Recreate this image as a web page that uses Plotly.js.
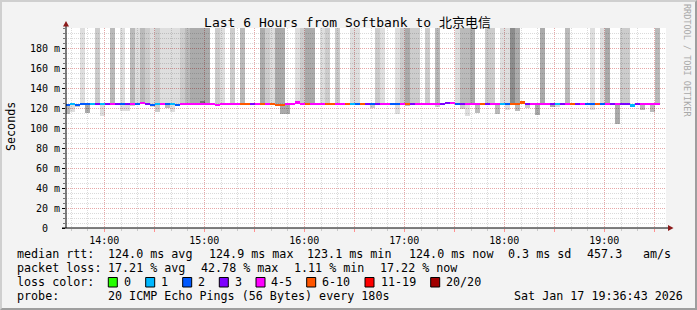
<!DOCTYPE html>
<html><head><meta charset="utf-8">
<script src="https://cdn.plot.ly/plotly-3.0.1.min.js"></script>
<style>
body{margin:0;background:#f3f3f3}
#wrap{position:relative;width:697px;height:310px;overflow:hidden}
#frame{position:absolute;left:0;top:0;width:697px;height:310px;box-sizing:border-box;border-style:solid;border-width:2px;border-color:#cfcfcf #9e9e9e #9e9e9e #cfcfcf;pointer-events:none}
</style>
</head><body>
<div id="wrap"><div id="chart"></div><div id="frame"></div></div>
<script>
// ---- data ----
const firstSampleUTC = '2026-01-17T13:37:54Z';
const stepSeconds = 180;
const xStart = '2026-01-17 13:37:00';
const xEnd = '2026-01-17 19:37:00';
const hourTicks = ['2026-01-17 14:00','2026-01-17 14:30','2026-01-17 15:00','2026-01-17 15:30','2026-01-17 16:00','2026-01-17 16:30','2026-01-17 17:00','2026-01-17 17:30','2026-01-17 18:00','2026-01-17 18:30','2026-01-17 19:00','2026-01-17 19:30'];
const hourLabels = ['14:00','','15:00','','16:00','','17:00','','18:00','','19:00',''];
const yTickVals = [0,20,40,60,80,100,120,140,160,180];
const yTickText = ['0\u00a0\u00a0','20 m','40 m','60 m','80 m','100 m','120 m','140 m','160 m','180 m'];

const medianMs = [
123,124,123,124,124,124,124,124,124,124,
124,124,124,124,124,125,124,123,124,124,
124,124,123,124,124,124,124,124,124,124,
123,124,124,124,124,124,124,124,124,124,
124,124,123,123,124,124,125.5,124,124,124,
124,124,124,124,124,124,124,124,124,124,
124,124,124,124,124,124,124,124,124,124,
124,124,124,124,124,124,125,125,124,124,
124,124,124,124,124,124,124,124,124,124,
124,125.5,124,124,124,124,124,124,124,124,
124,124,124,124,124,124,124,124,124,124,
124,124,124,122.5,124,124,124,124,124];
const lostPings = [
2,1,2,2,2,1,3,1,3,4,
3,2,3,4,2,4,3,2,1,4,
2,1,2,4,4,4,4,4,4,4,
4,4,4,4,4,7,7,3,4,7,
4,7,7,7,4,4,5,4,7,4,
4,4,7,7,4,4,7,1,2,7,
3,2,3,4,4,2,2,4,7,3,
4,5,4,4,4,3,3,4,2,3,
4,4,4,7,3,4,5,1,2,7,
7,7,3,4,4,5,4,3,1,3,
4,7,3,4,2,2,7,2,4,3,
4,3,3,1,3,4,5,4,4];
const smokeShade = [
0,0,0,1,0,0,2,0,0,3,
0,1,0,3,1,3,2,1,2,1,
1,1,1,2,3,4,4,4,4,0,
2,1,0,2,0,3,0,0,0,4,
2,1,4,4,0,0,1,2,4,4,
0,1,2,0,2,0,0,1,1,0,
0,0,2,1,0,0,1,2,4,2,
2,0,2,0,3,0,0,0,1,3,
3,4,0,0,2,2,0,1,1,5,
4,0,0,0,0,4,0,0,0,0,
3,0,0,0,0,1,0,1,4,0,
0,2,2,0,0,0,0,0,3];
const lowMs = [
114,116,121,null,115,null,null,112,null,null,
null,117,117,122,null,null,null,121,116,null,
120,116,null,null,null,null,null,null,null,null,
null,null,null,null,null,null,null,null,null,null,
null,null,null,114,114,null,null,null,null,null,
null,null,null,null,null,null,null,null,null,null,
null,120,null,null,null,null,114,null,122,null,
null,null,null,null,121,null,null,null,null,119,
112,null,115,null,null,null,114,null,118,null,
117,null,120,null,113,null,null,121,121,null,
null,null,null,null,null,118,null,null,null,null,
104,null,null,null,null,118,null,116,null];
const lowShade = [
3,1,2,0,4,0,0,1,0,0,
0,1,1,2,0,0,0,1,2,0,
3,1,0,0,0,0,0,0,0,0,
0,0,0,0,0,0,0,0,0,0,
0,0,0,4,4,0,0,0,0,0,
0,0,0,0,0,0,0,0,0,0,
0,2,0,0,0,0,1,0,3,0,
0,0,0,0,2,0,0,0,0,2,
1,0,3,0,0,0,3,0,1,0,
3,0,2,0,4,0,0,4,1,0,
0,0,0,0,0,1,0,0,0,0,
4,0,0,0,0,3,0,3,0];
const bumpIndex = [27];
const bumpMs = [127];

const lossLabels = ['0','1','2','3','4-5','6-10','11-19','20/20'];
const lossUpper = [0,1,2,3,5,10,19,20];
const lossColors = ['#26ff00','#00b8ff','#0059ff','#7e00ff','#ff00ff','#ff5500','#ff0000','#a10000'];

// ---- build ----
const MONO = "'DejaVu Sans Mono', 'Noto Sans CJK SC', monospace";
const shadeColors = [null,'rgba(0,0,0,0.13)','rgba(0,0,0,0.2)','rgba(0,0,0,0.27)','rgba(0,0,0,0.33)','rgba(0,0,0,0.45)'];
const t0 = Date.parse(firstSampleUTC);
const times = medianMs.map((_, k) => new Date(t0 + k*stepSeconds*1000).toISOString().replace('T',' ').slice(0,19));
const W = 180000;
function barTrace(idx, base, h, color){
  return {type:'bar', x: idx.map(k=>times[k]), base: base, y: h, width: W,
    marker:{color: color, line:{width:0}}, hoverinfo:'skip', showlegend:false};
}
const traces = [];
for (let s=1; s<=5; s++){
  const idx = smokeShade.map((v,k)=>v===s?k:-1).filter(k=>k>=0);
  if (!idx.length) continue;
  traces.push(barTrace(idx, idx.map(k=>medianMs[k]), idx.map(k=>201-medianMs[k]), shadeColors[s]));
}
for (let s=1; s<=5; s++){
  const idx = lowShade.map((v,k)=>(v===s && lowMs[k]!==null)?k:-1).filter(k=>k>=0);
  if (!idx.length) continue;
  traces.push(barTrace(idx, idx.map(k=>lowMs[k]), idx.map(k=>medianMs[k]-lowMs[k]), shadeColors[s]));
}
traces.push(barTrace(bumpIndex, bumpIndex.map(k=>medianMs[k]), bumpIndex.map((k,i)=>bumpMs[i]-medianMs[k]), shadeColors[4]));
function lossBin(c){ for (let i=0;i<lossUpper.length;i++) if (c<=lossUpper[i]) return i; return lossUpper.length-1; }
for (let b=0; b<lossColors.length; b++){
  const idx = lostPings.map((c,k)=>lossBin(c)===b?k:-1).filter(k=>k>=0);
  if (!idx.length) continue;
  traces.push(barTrace(idx, idx.map(k=>medianMs[k]-1.3), idx.map(()=>2.6), lossColors[b]));
}

// pixel helpers (plot area 66..666 x 28..228)
const L=66, PW=600, T=28, PH=200;
const px = x => (x-L)/PW, py = y => (T+PH-y)/PH;

function txt(x, y, s, opt){
  return Object.assign({xref:'paper', yref:'paper', x:px(x), y:py(y), text:s, showarrow:false,
    xanchor:'left', yanchor:'middle', borderpad:0, font:{family:MONO, size:11.7, color:'#000'}}, opt||{});
}
const annotations = [
  txt(10.5, 126.5, 'Seconds', {xanchor:'center', textangle:-90}),
  txt(687, 60, 'RRDTOOL / TOBI OETIKER', {xanchor:'center', textangle:90, font:{family:MONO, size:8.5, color:'#a8a8a8'}}),
  txt(16, 254.3, 'median rtt:'),
  txt(107, 254.3, '124.0 ms avg'),
  txt(208, 254.3, '124.9 ms max'),
  txt(306, 254.3, '123.1 ms min'),
  txt(408, 254.3, '124.0 ms now'),
  txt(507, 254.3, '0.3 ms sd'),
  txt(586.3, 254.3, '457.3'),
  txt(642, 254.3, 'am/s'),
  txt(16, 268, 'packet loss:'),
  txt(107, 268, '17.21 % avg'),
  txt(199.7, 268, '42.78 % max'),
  txt(293, 268, '1.11 % min'),
  txt(379, 268, '17.22 % now'),
  txt(16, 282, 'loss color:'),
  txt(16, 296, 'probe:'),
  txt(107, 296, '20 ICMP Echo Pings (56 Bytes) every 180s'),
  txt(513, 296, 'Sat Jan 17 19:36:43 2026')
];
const swatchX = [108.3,145.7,182.7,219.3,256,306.7,365,430.7];
const labelX = [123,160.4,197,233.7,270.4,321.4,380.4,445.4];
const shapes = [];
lossLabels.forEach((lab,i)=>{
  annotations.push(txt(labelX[i], 282, lab));
  shapes.push({type:'rect', xref:'paper', yref:'paper', x0:px(swatchX[i]), x1:px(swatchX[i]+9), y0:py(287), y1:py(277.5),
    fillcolor:lossColors[i], line:{color:'#000', width:1}, layer:'above'});
});
// axes with arrows
shapes.push({type:'line', xref:'paper', yref:'paper', x0:0, x1:0, y0:0, y1:py(24), line:{color:'#000', width:1}, layer:'above'});
shapes.push({type:'line', xref:'paper', yref:'paper', x0:px(62), x1:px(670), y0:0, y1:0, line:{color:'#000', width:1}, layer:'above'});
shapes.push({type:'path', xref:'paper', yref:'paper', layer:'above', fillcolor:'#8b1a1a', line:{width:0},
  path:`M ${px(63)} ${py(26.5)} L ${px(69)} ${py(26.5)} L ${px(66)} ${py(21)} Z`});
shapes.push({type:'path', xref:'paper', yref:'paper', layer:'above', fillcolor:'#8b1a1a', line:{width:0},
  path:`M ${px(668)} ${py(225)} L ${px(668)} ${py(231)} L ${px(673.5)} ${py(228)} Z`});

const layout = {
  width:697, height:310,
  margin:{l:L, r:697-L-PW, t:T, b:310-T-PH, pad:0},
  paper_bgcolor:'#f3f3f3', plot_bgcolor:'#ffffff',
  barmode:'overlay', bargap:0, showlegend:false,
  font:{family:MONO, size:10, color:'#000'},
  title:{text:'Last 6 Hours from Softbank to 北京电信', font:{family:MONO, size:13, color:'#000'},
    xref:'container', x:347.5/697, xanchor:'center', yref:'container', y:1-22/310, yanchor:'middle'},
  xaxis:{type:'date', range:[xStart, xEnd], tickmode:'array', tickvals:hourTicks, ticktext:hourLabels,
    showgrid:true, gridcolor:'rgba(255,60,60,0.32)', griddash:'1px,1px', gridwidth:1,
    ticks:'outside', ticklen:3, tickcolor:'#ff9090', zeroline:false, showline:false, fixedrange:true,
    tickfont:{family:MONO, size:10, color:'#000'},
    minor:{dtick:600000, tick0:'2026-01-17 14:00:00', showgrid:true, gridcolor:'#dadada', griddash:'1px,1px',
      ticks:'outside', ticklen:2, tickcolor:'#c8c8c8'}},
  yaxis:{range:[0,200], tickmode:'array', tickvals:yTickVals, ticktext:yTickText,
    showgrid:true, gridcolor:'rgba(255,60,60,0.32)', griddash:'1px,1px', gridwidth:1,
    ticks:'outside', ticklen:3, tickcolor:'#000', zeroline:false, showline:false, fixedrange:true,
    tickfont:{family:MONO, size:10, color:'#000'},
    minor:{dtick:5, tick0:0, showgrid:true, gridcolor:'#dadada', griddash:'1px,1px',
      ticks:'outside', ticklen:2, tickcolor:'#777'}},
  shapes: shapes,
  annotations: annotations
};
Plotly.newPlot('chart', traces, layout, {staticPlot:true, displayModeBar:false});
</script>
</body></html>
